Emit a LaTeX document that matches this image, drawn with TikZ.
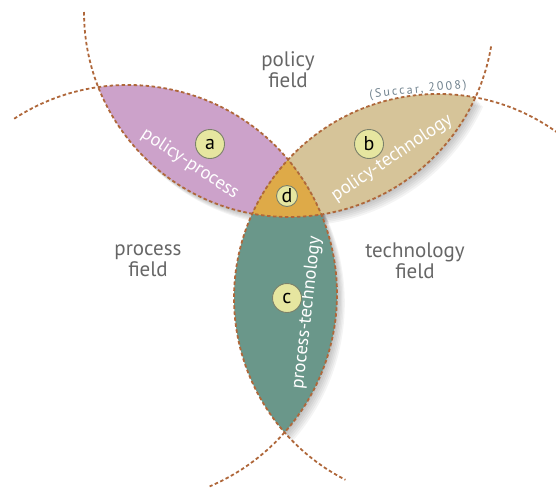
\documentclass[tikz,border=0pt]{standalone}
\usepackage{fontspec}
\setmainfont{PT Sans}
\definecolor{lensA}{HTML}{CCA2CA}
\definecolor{lensB}{HTML}{D6C499}
\definecolor{lensC}{HTML}{6A978A}
\definecolor{lensD}{HTML}{DEAA48}
\definecolor{dotfill}{HTML}{E6E6A0}
\definecolor{dotborder}{HTML}{7A806A}
\definecolor{linebrown}{HTML}{AF673A}
\definecolor{fieldgray}{HTML}{666666}
\definecolor{citegray}{HTML}{6E808C}
\tikzset{
  fieldline/.style={draw=linebrown, line width=1.8pt, dash pattern=on 3.5pt off 2.5pt},
  fieldtext/.style={text=fieldgray, align=center, font=\fontsize{21}{21}\selectfont},
  lenstext/.style={text=white, font=\fontsize{18.5}{18.5}\selectfont},
  citetext/.style={text=citegray, font=\fontsize{12}{12}\selectfont\addfontfeature{LetterSpace=18}},
  letterdot/.style={circle, draw=dotborder, fill=dotfill, line width=0.9pt, inner sep=0pt, minimum size=29pt, font=\fontsize{20}{20}\selectfont},
}
\begin{document}
\begin{tikzpicture}[x=1pt, y=1pt]
\useasboundingbox (0,0) rectangle (556,-488);
% soft shadow under the lenses
\foreach \s in {1,...,6}{
  \begin{scope}[shift={(1.3*\s,-1.5*\s)}, opacity=0.045]
    \begin{scope}
      \clip (289,-12) circle[radius=205];
      \fill (128,-294) circle[radius=209];
      \fill (438,-298) circle[radius=204];
    \end{scope}
    \begin{scope}
      \clip (128,-294) circle[radius=209];
      \fill (438,-298) circle[radius=204];
    \end{scope}
  \end{scope}
}
% lenses
\begin{scope}
  \clip (289,-12) circle[radius=205];
  \fill[lensA] (128,-294) circle[radius=209];
  \fill[lensB] (438,-298) circle[radius=204];
\end{scope}
\begin{scope}
  \clip (128,-294) circle[radius=209];
  \fill[lensC] (438,-298) circle[radius=204];
\end{scope}
\begin{scope}
  \clip (289,-12) circle[radius=205];
  \clip (128,-294) circle[radius=209];
  \fill[lensD] (438,-298) circle[radius=204];
\end{scope}
% field borders
\draw[fieldline] ([shift={(-180:205)}]289,-12) arc[start angle=-180, end angle=-9, radius=205];
\draw[fieldline] ([shift={(-237:209)}]128,-294) arc[start angle=-237, end angle=-427, radius=209];
\draw[fieldline] ([shift={(54:204)}]438,-298) arc[start angle=54, end angle=243, radius=204];
% labels
\node[fieldtext] (polfield) at (288,-70) {policy\\field};
\node[fieldtext] (profield) at (148,-261) {process\\field};
\node[fieldtext] (tecfield) at (415,-261) {technology\\field};
\node[citetext, rotate=6] (cite) at (418,-90) {(Succar, 2008)};
\node[lenstext, rotate=-33.5] (pplab) at (190,-164) {policy-process};
\node[lenstext, rotate=34] (ptlab) at (392,-158) {policy-technology};
\node[lenstext, rotate=83.5] (prtlab) at (307,-313) {process-technology};
\node[letterdot] (a) at (210,-144) {a};
\node[letterdot] (b) at (369,-144) {b};
\node[letterdot] (c) at (287,-298) {c};
\node[letterdot, minimum size=21pt] (d) at (287,-196) {d};
\end{tikzpicture}
\end{document}
